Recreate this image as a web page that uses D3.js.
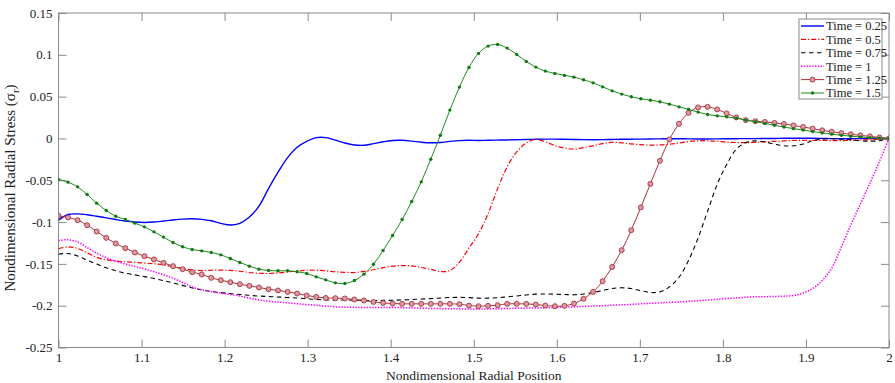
<!DOCTYPE html>
<html><head><meta charset="utf-8">
<script src="https://cdn.jsdelivr.net/npm/d3@7"></script>
<style>body{margin:0;background:#fff}svg{display:block}
svg text{font-family:"Liberation Serif","Times New Roman",Times,"DejaVu Serif",serif !important;}</style>
</head><body><svg id="c" width="895" height="383"></svg>
<script>
// ---- data ----
const xTicks = [1, 1.1, 1.2, 1.3, 1.4, 1.5, 1.6, 1.7, 1.8, 1.9, 2];
const xTickLabels = ["1","1.1","1.2","1.3","1.4","1.5","1.6","1.7","1.8","1.9","2"];
const yTicks = [-0.25, -0.2, -0.15, -0.1, -0.05, 0, 0.05, 0.1, 0.15];
const yTickLabels = ["-0.25","-0.2","-0.15","-0.1","-0.05","0","0.05","0.1","0.15"];
const seriesNames = ["Time = 0.25","Time = 0.5","Time = 0.75","Time = 1","Time = 1.25","Time = 1.5"];
// radial positions (88 grid points from 1 to 2)
const positions = d3.range(88).map(i => 1 + i / 87);

const t025 = [-0.0977,-0.091,-0.0902,-0.0912,-0.093,-0.095,-0.097,-0.0988,-0.1,-0.1005,-0.1,-0.0988,-0.0975,-0.0965,-0.0961,
 -0.0968,-0.0985,-0.1015,-0.1035,-0.1015,-0.094,-0.081,-0.060,-0.0404,-0.023,-0.0106,-0.0035,0.001,0.001,-0.002,
 -0.0055,-0.0078,-0.0082,-0.0062,-0.004,-0.0024,-0.0022,-0.0032,-0.0045,-0.0052,-0.0048,-0.0035,-0.0026,-0.0022,
 -0.0025,-0.0022,-0.002,-0.0018,-0.0015,-0.0012,-0.001,-0.0008,-0.0008,-0.001,-0.0012,-0.0014,-0.0015,-0.0014,-0.0012,
 -0.001,-0.0009,-0.0008,-0.0006,-0.0005,-0.0004,-0.0004,-0.0005,-0.0006,-0.0006,-0.0005,-0.0004,-0.0003,-0.0002,
 -0.0002,-0.0001,0,0.0002,0.0003,0.0003,0.0002,0,-0.0002,-0.0003,-0.0003,-0.0002,-0.0001,0,0];
const t05 = [-0.132,-0.1296,-0.1315,-0.1368,-0.1422,-0.1452,-0.1466,-0.1475,-0.1482,-0.149,-0.1498,-0.1512,-0.1535,-0.1556,-0.1572,
 -0.158,-0.1576,-0.1575,-0.1578,-0.1588,-0.1603,-0.1612,-0.1615,-0.1608,-0.1596,-0.1585,-0.1576,-0.1577,-0.1583,-0.1595,
 -0.1601,-0.1603,-0.159,-0.157,-0.1545,-0.1527,-0.152,-0.1524,-0.1543,-0.1565,-0.1592,-0.158,-0.148,-0.131,
 -0.114,-0.090,-0.060,-0.034,-0.016,-0.0055,-0.0012,-0.004,-0.0085,-0.0115,-0.0128,-0.011,-0.0088,-0.0062,-0.0046,
 -0.0052,-0.0065,-0.0075,-0.008,-0.0078,-0.007,-0.0055,-0.0038,-0.0028,-0.0028,-0.0035,-0.0044,-0.0049,-0.005,
 -0.0046,-0.004,-0.0034,-0.0028,-0.0024,-0.0022,-0.0022,-0.0024,-0.0026,-0.0026,-0.0024,-0.002,-0.0014,-0.0008,0];
const t075 = [-0.1384,-0.1376,-0.1405,-0.1455,-0.1502,-0.1546,-0.1582,-0.1612,-0.1632,-0.1652,-0.1675,-0.17,-0.1728,-0.1757,-0.1787,
 -0.181,-0.183,-0.1843,-0.1856,-0.1866,-0.1876,-0.1885,-0.189,-0.1896,-0.1902,-0.1908,-0.1917,-0.1926,-0.1932,-0.1933,
 -0.1932,-0.1934,-0.1937,-0.1938,-0.1937,-0.1935,-0.1932,-0.1926,-0.192,-0.1915,-0.1908,-0.1902,-0.1901,-0.1903,
 -0.191,-0.191,-0.1904,-0.1894,-0.1884,-0.1872,-0.1862,-0.186,-0.1862,-0.1866,-0.187,-0.186,-0.1842,-0.1818,-0.1795,
 -0.1786,-0.1795,-0.182,-0.1842,-0.1835,-0.1775,-0.166,-0.146,-0.119,-0.087,-0.055,-0.031,-0.013,-0.005,
 -0.0029,-0.0042,-0.0068,-0.0088,-0.0088,-0.0066,-0.0028,-0.0008,-0.0004,-0.0008,-0.0016,-0.0028,-0.0032,-0.0028,0];
const t1 = [-0.122,-0.1212,-0.1238,-0.1305,-0.1372,-0.1425,-0.1468,-0.1502,-0.153,-0.156,-0.1594,-0.163,-0.1672,-0.172,-0.1776,
 -0.181,-0.183,-0.185,-0.1866,-0.1885,-0.191,-0.1932,-0.1946,-0.1957,-0.1966,-0.1976,-0.1986,-0.1995,-0.2005,-0.2014,
 -0.2017,-0.202,-0.2022,-0.2022,-0.2022,-0.2022,-0.2023,-0.2026,-0.203,-0.2033,-0.2035,-0.2037,-0.2038,-0.2039,
 -0.2041,-0.2039,-0.2036,-0.2034,-0.2031,-0.2029,-0.2027,-0.2025,-0.2022,-0.2018,-0.2014,-0.2009,-0.2004,-0.2,-0.1995,
 -0.199,-0.1984,-0.1978,-0.1972,-0.1966,-0.196,-0.1955,-0.1948,-0.194,-0.1932,-0.1924,-0.1915,-0.1907,-0.1899,
 -0.1894,-0.1892,-0.189,-0.1886,-0.1878,-0.185,-0.1795,-0.17,-0.155,-0.13,-0.1035,-0.0785,-0.0535,-0.0275,0];
const t125 = [-0.0926,-0.0945,-0.0977,-0.1037,-0.1113,-0.1189,-0.1256,-0.1312,-0.1364,-0.1408,-0.1447,-0.1488,-0.1527,-0.1563,-0.1599,
 -0.1627,-0.1667,-0.1695,-0.1719,-0.1743,-0.1763,-0.1782,-0.1803,-0.1818,-0.1835,-0.1854,-0.1878,-0.1895,-0.1907,-0.191,
 -0.1914,-0.1926,-0.1938,-0.1955,-0.1967,-0.1974,-0.1978,-0.1978,-0.1978,-0.1978,-0.1978,-0.1978,-0.1982,-0.1998,
 -0.2006,-0.2002,-0.1994,-0.1978,-0.1978,-0.1978,-0.1986,-0.1998,-0.2006,-0.2002,-0.1974,-0.1918,-0.1835,-0.1707,-0.1536,
 -0.1336,-0.1097,-0.0825,-0.0543,-0.0268,-0.0012,0.0175,0.0306,0.0371,0.0378,0.0347,0.0299,0.0251,0.0219,
 0.0207,0.0197,0.0186,0.0172,0.0156,0.0137,0.0117,0.0097,0.008,0.0064,0.005,0.0037,0.0025,0.0012,0];
const t15 = [-0.049,-0.0523,-0.0579,-0.067,-0.0774,-0.0861,-0.093,-0.0969,-0.1013,-0.1057,-0.1117,-0.118,-0.1244,-0.1296,-0.1328,
 -0.1344,-0.1364,-0.1392,-0.1436,-0.1483,-0.1527,-0.1563,-0.1579,-0.1583,-0.1583,-0.1595,-0.1615,-0.1655,-0.1691,-0.1727,
 -0.1735,-0.1699,-0.1623,-0.1504,-0.134,-0.116,-0.0969,-0.0754,-0.0519,-0.0248,0.0039,0.0339,0.0614,0.0849,
 0.1017,0.1104,0.1124,0.108,0.1005,0.0921,0.0853,0.0805,0.0778,0.0754,0.0733,0.0701,0.0665,0.0617,0.0569,
 0.053,0.0498,0.0474,0.0458,0.0438,0.041,0.0378,0.0347,0.0315,0.0287,0.027,0.0258,0.0243,0.0219,
 0.02,0.018,0.0158,0.0136,0.0117,0.01,0.0082,0.0066,0.0051,0.0038,0.0027,0.0018,0.001,0.0004,0];

// ---- layout ----
const L = 58.5, R = 889, T = 13, B = 347.5;
const FONT = "Liberation Serif";
const svg = d3.select("#c");
const x = d3.scaleLinear().domain([1, 2]).range([L, R]);
const y = d3.scaleLinear().domain([-0.25, 0.15]).range([B, T]);

const styles = [
  {data: t025, color: "#0000ff", width: 1.4, dash: null},
  {data: t05,  color: "#ff0000", width: 1.2, dash: "5,2,1.2,2"},
  {data: t075, color: "#000000", width: 1.1, dash: "4.5,3.5"},
  {data: t1,   color: "#ff00ff", width: 1.5, dash: "1.4,1.4"},
  {data: t125, color: "#b0303c", width: 1.0, dash: null, marker: "circle"},
  {data: t15,  color: "#1e8a1e", width: 1.0, dash: null, marker: "dot"}
];

svg.append("defs").append("clipPath").attr("id","clip")
  .append("rect").attr("x", L).attr("y", T).attr("width", R - L).attr("height", B - T);

// axes
const axisColor = "#8a8a8a";
function styleAxis(g, labels) {
  g.attr("font-family", FONT).attr("font-size", 13);
  g.select(".domain").remove();
  g.selectAll(".tick line").attr("stroke", axisColor).attr("stroke-width", 1);
  g.selectAll(".tick text").attr("fill", "#222");
  if (!labels) g.selectAll(".tick text").remove();
}
svg.append("g").attr("transform", `translate(${L},0)`)
  .call(d3.axisLeft(y).tickValues(yTicks).tickFormat((d, i) => yTickLabels[i]).tickSizeInner(-8).tickSizeOuter(0).tickPadding(6))
  .call(g => styleAxis(g, true));
svg.append("g").attr("transform", `translate(${R},0)`)
  .call(d3.axisRight(y).tickValues(yTicks).tickSizeInner(-8).tickSizeOuter(0))
  .call(g => styleAxis(g, false));
svg.append("g").attr("transform", `translate(0,${B})`)
  .call(d3.axisBottom(x).tickValues(xTicks).tickFormat((d, i) => xTickLabels[i]).tickSizeInner(-8).tickSizeOuter(0).tickPadding(5))
  .call(g => styleAxis(g, true));
svg.append("g").attr("transform", `translate(0,${T})`)
  .call(d3.axisTop(x).tickValues(xTicks).tickSizeInner(-8).tickSizeOuter(0))
  .call(g => styleAxis(g, false));
svg.append("rect").attr("x", L).attr("y", T).attr("width", R - L).attr("height", B - T)
  .attr("fill", "none").attr("stroke", axisColor).attr("stroke-width", 1);

// lines
const plot = svg.append("g").attr("clip-path", "url(#clip)");
const line = d3.line().x((d, i) => x(positions[i])).y(d => y(d)).curve(d3.curveCatmullRom.alpha(0.5));
styles.forEach(s => {
  plot.append("path").datum(s.data).attr("d", line)
    .attr("fill", "none").attr("stroke", s.color).attr("stroke-width", s.width)
    .attr("stroke-dasharray", s.dash);
  if (s.marker === "circle") {
    plot.append("g").selectAll("circle").data(s.data).join("circle")
      .attr("cx", (d, i) => x(positions[i])).attr("cy", d => y(d)).attr("r", 2.5)
      .attr("fill", "#d99aa0").attr("stroke", "#a8323e").attr("stroke-width", 0.9);
  } else if (s.marker === "dot") {
    plot.append("g").selectAll("circle").data(s.data).join("circle")
      .attr("cx", (d, i) => x(positions[i])).attr("cy", d => y(d)).attr("r", 1.7)
      .attr("fill", "#137a13");
  }
});

// axis titles
svg.append("text").attr("x", (L + R) / 2).attr("y", 380).attr("text-anchor", "middle")
  .attr("font-family", FONT).attr("font-size", 13.5).attr("fill", "#222")
  .text("Nondimensional Radial Position");
const yl = svg.append("text").attr("transform", `translate(15,188) rotate(-90)`)
  .attr("text-anchor", "middle").attr("font-family", FONT).attr("font-size", 15).attr("fill", "#222");
yl.append("tspan").text("Nondimensional Radial Stress (σ");
yl.append("tspan").attr("dy", 4).attr("font-size", 11).text("r");
yl.append("tspan").attr("dy", -4).text(")");

// legend
const lg = svg.append("g");
lg.append("rect").attr("x", 799).attr("y", 19).attr("width", 83).attr("height", 80)
  .attr("fill", "#fff").attr("stroke", axisColor).attr("stroke-width", 1);
styles.forEach((s, i) => {
  const yy = 26 + i * 13.4;
  lg.append("line").attr("x1", 801).attr("x2", 824).attr("y1", yy).attr("y2", yy)
    .attr("stroke", s.color).attr("stroke-width", s.width).attr("stroke-dasharray", s.dash);
  if (s.marker === "circle") lg.append("circle").attr("cx", 812.5).attr("cy", yy).attr("r", 2.5)
    .attr("fill", "#d99aa0").attr("stroke", "#a8323e").attr("stroke-width", 0.9);
  if (s.marker === "dot") lg.append("circle").attr("cx", 812.5).attr("cy", yy).attr("r", 1.7).attr("fill", "#137a13");
  lg.append("text").attr("x", 826).attr("y", yy).attr("dy", "0.35em")
    .attr("font-family", FONT).attr("font-size", 12.5).attr("fill", "#222").text(seriesNames[i]);
});
</script></body></html>
